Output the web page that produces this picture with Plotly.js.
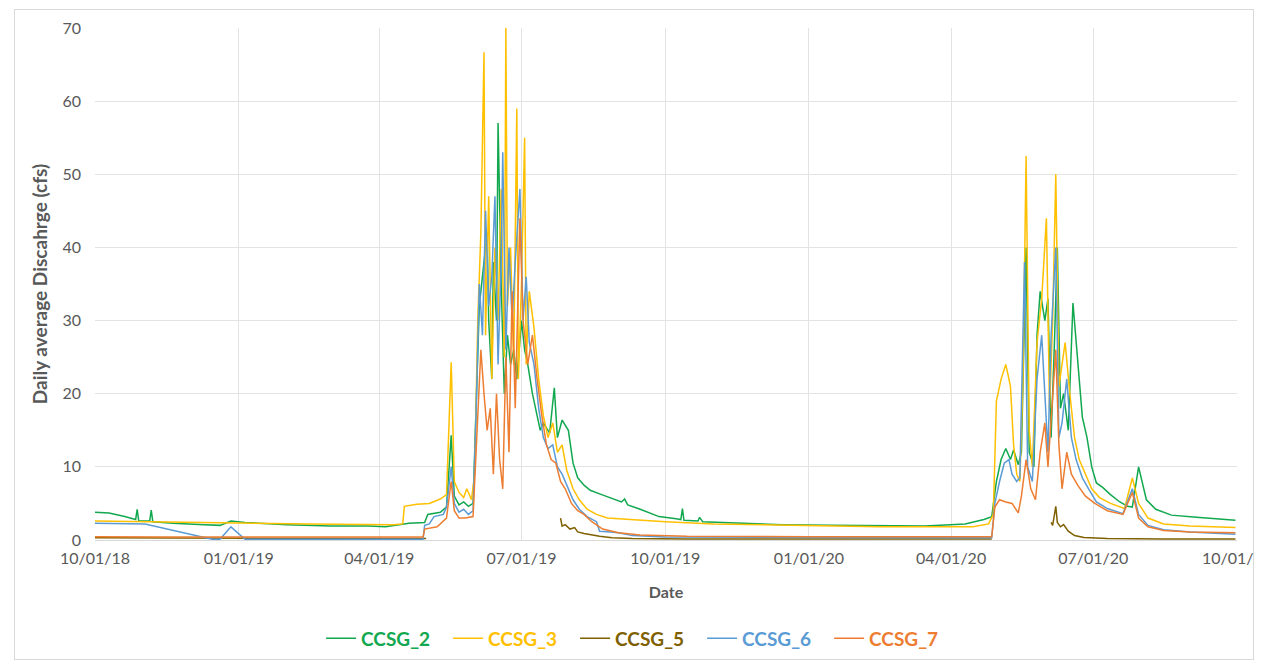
<!DOCTYPE html>
<html>
<head>
<meta charset="utf-8">
<script src="https://cdn.plot.ly/plotly-3.0.1.min.js"></script>
<style>
  html, body { margin: 0; padding: 0; background: #ffffff; width: 1261px; height: 664px; overflow: hidden; }
  #frame { position: absolute; left: 14px; top: 9px; width: 1240px; height: 651px; border: 1px solid #d9d9d9; box-sizing: border-box; }
  #clip { position: absolute; left: 0; top: 0; width: 1254px; height: 664px; overflow: hidden; }
  #chart { position: absolute; left: 0; top: 0; width: 1261px; height: 664px; }
</style>
</head>
<body>
<div id="frame"></div>
<div id="clip"><div id="chart"></div></div>
<script>
// ---------------- data ----------------
const seriesNames = ["CCSG_2", "CCSG_3", "CCSG_5", "CCSG_6", "CCSG_7"];
const seriesColors = ["#12A84F", "#FFC000", "#7F6000", "#5B9BD5", "#ED7D31"];
const xTickLabels = ["10/01/18", "01/01/19", "04/01/19", "07/01/19", "10/01/19", "01/01/20", "04/01/20", "07/01/20", "10/01/20"];
const yTickValues = [0, 10, 20, 30, 40, 50, 60, 70];

const ccsg2Dates = ["2018-10-01","2018-10-10","2018-10-20","2018-10-27","2018-10-28","2018-10-29","2018-11-05","2018-11-06","2018-11-07","2018-11-20","2018-12-10","2018-12-20","2018-12-27","2019-01-05","2019-02-01","2019-03-01","2019-03-25","2019-04-05","2019-04-20","2019-04-30","2019-05-02","2019-05-10","2019-05-14","2019-05-17","2019-05-19","2019-05-22","2019-05-25","2019-05-28","2019-05-31","2019-06-02","2019-06-04","2019-06-06","2019-06-09","2019-06-10","2019-06-12","2019-06-13","2019-06-15","2019-06-16","2019-06-18","2019-06-20","2019-06-22","2019-06-24","2019-06-26","2019-06-28","2019-07-01","2019-07-03","2019-07-05","2019-07-08","2019-07-11","2019-07-13","2019-07-15","2019-07-19","2019-07-22","2019-07-24","2019-07-27","2019-07-31","2019-08-03","2019-08-06","2019-08-10","2019-08-14","2019-08-20","2019-08-27","2019-09-03","2019-09-05","2019-09-07","2019-09-15","2019-09-27","2019-10-08","2019-10-11","2019-10-12","2019-10-13","2019-10-22","2019-10-23","2019-10-25","2019-11-15","2019-12-15","2020-01-15","2020-02-15","2020-03-15","2020-04-10","2020-04-22","2020-04-27","2020-04-30","2020-05-03","2020-05-06","2020-05-09","2020-05-11","2020-05-14","2020-05-16","2020-05-19","2020-05-21","2020-05-24","2020-05-26","2020-05-28","2020-05-31","2020-06-02","2020-06-04","2020-06-06","2020-06-08","2020-06-10","2020-06-12","2020-06-15","2020-06-18","2020-06-22","2020-06-24","2020-06-27","2020-06-30","2020-07-03","2020-07-07","2020-07-12","2020-07-18","2020-07-23","2020-07-26","2020-07-30","2020-08-04","2020-08-10","2020-08-20","2020-09-05","2020-09-20","2020-09-30"];
const ccsg2Values = [3.8,3.7,3.2,2.8,4.2,2.6,2.6,4.1,2.5,2.3,2.1,2.0,2.6,2.4,2.1,1.9,1.9,1.8,2.3,2.4,3.5,3.8,4.5,14.3,6,4.8,5.2,4.6,5,20,32,36,42,30,22,38,30,57,35,20,28,24,26,22,30,26,24,20,17,15,16,14.6,20.8,14,16.4,15,10.5,8.5,7.5,6.8,6.3,5.8,5.2,5.6,4.8,4.2,3.2,2.9,2.8,4.3,2.7,2.6,3.1,2.5,2.3,2.1,2.0,1.9,1.9,2.2,2.8,3.2,8,11,12.5,11,12.3,10.3,12,40,12,10,28,34,30,33,14,26,40,18,20,15,32.4,22,16.8,14,10,7.8,7.2,6.2,5.2,4.6,4.5,10,5.5,4.2,3.4,3.1,2.9,2.7,2.5];

const ccsg3Dates = ["2018-10-01","2018-11-01","2018-12-01","2019-01-01","2019-02-15","2019-04-10","2019-04-16","2019-04-17","2019-04-25","2019-05-03","2019-05-10","2019-05-14","2019-05-17","2019-05-19","2019-05-22","2019-05-25","2019-05-27","2019-05-30","2019-06-01","2019-06-03","2019-06-05","2019-06-07","2019-06-08","2019-06-10","2019-06-12","2019-06-14","2019-06-16","2019-06-18","2019-06-20","2019-06-21","2019-06-22","2019-06-24","2019-06-26","2019-06-28","2019-06-29","2019-07-01","2019-07-03","2019-07-04","2019-07-06","2019-07-09","2019-07-12","2019-07-15","2019-07-18","2019-07-21","2019-07-24","2019-07-27","2019-07-30","2019-08-03","2019-08-07","2019-08-12","2019-08-18","2019-08-25","2019-09-01","2019-09-15","2019-10-01","2019-11-01","2019-12-15","2020-02-15","2020-04-15","2020-04-25","2020-04-28","2020-04-30","2020-05-03","2020-05-06","2020-05-09","2020-05-11","2020-05-13","2020-05-15","2020-05-17","2020-05-19","2020-05-21","2020-05-23","2020-05-26","2020-05-29","2020-06-01","2020-06-03","2020-06-05","2020-06-07","2020-06-09","2020-06-11","2020-06-13","2020-06-16","2020-06-19","2020-06-22","2020-06-26","2020-06-30","2020-07-05","2020-07-12","2020-07-21","2020-07-26","2020-07-30","2020-08-05","2020-08-15","2020-09-01","2020-09-30"];
const ccsg3Values = [2.6,2.5,2.4,2.3,2.2,2.1,2.2,4.6,4.9,5.0,5.6,6.2,24.3,8,6.5,5.8,7,5.5,9,30,42,66.7,28,47,22,40,30,48,25,70,32,40,24,59,22,35,55,24,34,29,22,17,14,16,12,13,9.5,7,5.5,4.2,3.5,3.0,2.9,2.7,2.5,2.2,2.0,1.8,1.8,2.2,3.5,19,22,24,21,13,9,8,22,52.5,15,10,27,33,44,18,30,50,21,24,27,20,14,11,9,7,5.8,5,4.3,8.5,5,3,2.2,1.9,1.7];

const ccsg5Dates = ["2018-10-01","2019-01-01","2019-05-01","2019-05-02","2019-07-26","2019-07-27","2019-07-29","2019-08-01","2019-08-04","2019-08-06","2019-08-10","2019-08-14","2019-08-20","2019-08-28","2019-09-10","2019-10-15","2020-01-01","2020-04-27","2020-04-28","2020-06-04","2020-06-05","2020-06-07","2020-06-08","2020-06-10","2020-06-12","2020-06-15","2020-06-19","2020-06-25","2020-07-10","2020-08-15","2020-09-30"];
const ccsg5Values = [0.3,0.25,0.2,null,3.0,1.9,2.1,1.5,1.7,1.1,0.9,0.7,0.5,0.3,0.2,0.15,0.15,0.15,null,2.4,2.0,4.6,2.4,1.8,2.1,1.2,0.6,0.35,0.2,0.15,0.15];

const ccsg6Dates = ["2018-10-01","2018-10-20","2018-11-02","2018-12-15","2018-12-20","2018-12-27","2019-01-05","2019-04-29","2019-04-30","2019-05-03","2019-05-06","2019-05-12","2019-05-14","2019-05-17","2019-05-19","2019-05-22","2019-05-25","2019-05-28","2019-05-31","2019-06-02","2019-06-04","2019-06-06","2019-06-08","2019-06-10","2019-06-12","2019-06-14","2019-06-16","2019-06-18","2019-06-19","2019-06-21","2019-06-23","2019-06-25","2019-06-27","2019-06-30","2019-07-02","2019-07-04","2019-07-06","2019-07-09","2019-07-12","2019-07-15","2019-07-18","2019-07-21","2019-07-24","2019-07-27","2019-07-30","2019-08-03","2019-08-07","2019-08-12","2019-08-18","2019-08-20","2019-08-27","2019-09-01","2019-09-10","2019-10-01","2020-01-01","2020-04-27","2020-04-29","2020-05-02","2020-05-05","2020-05-08","2020-05-10","2020-05-13","2020-05-15","2020-05-18","2020-05-20","2020-05-23","2020-05-26","2020-05-29","2020-05-31","2020-06-02","2020-06-04","2020-06-07","2020-06-09","2020-06-11","2020-06-14","2020-06-17","2020-06-20","2020-06-24","2020-06-28","2020-07-03","2020-07-10","2020-07-20","2020-07-26","2020-07-30","2020-08-05","2020-08-15","2020-09-01","2020-09-30"];
const ccsg6Values = [2.3,2.3,2.2,0.1,0.1,1.8,0.1,0.1,2.0,2.2,3.2,3.5,4.5,10,5,3.8,4.2,3.5,4,18,35,28,45,32,36,47,24,38,53,26,40,30,38,48,30,36,27,24,18,14,12.5,13,10,9,7.5,5.5,4.2,3.2,2.5,1.2,1.1,1.0,0.6,0.4,0.35,0.3,5,8,10.5,11,9,8,8.5,38,10,8,22,28,20,12,28,40,14,16,22,14,11,8.5,7,5.2,4.3,3.6,7,3.5,2,1.4,1.1,0.8];

const ccsg7Dates = ["2018-10-01","2018-11-15","2019-04-29","2019-04-30","2019-05-08","2019-05-14","2019-05-17","2019-05-19","2019-05-22","2019-05-26","2019-05-31","2019-06-02","2019-06-05","2019-06-07","2019-06-09","2019-06-11","2019-06-13","2019-06-15","2019-06-17","2019-06-19","2019-06-21","2019-06-23","2019-06-25","2019-06-27","2019-06-30","2019-07-02","2019-07-05","2019-07-08","2019-07-11","2019-07-14","2019-07-17","2019-07-20","2019-07-23","2019-07-26","2019-07-29","2019-08-02","2019-08-06","2019-08-10","2019-08-15","2019-08-22","2019-09-01","2019-09-15","2019-10-15","2020-01-01","2020-04-27","2020-04-29","2020-05-02","2020-05-06","2020-05-10","2020-05-14","2020-05-16","2020-05-19","2020-05-22","2020-05-25","2020-05-28","2020-05-31","2020-06-02","2020-06-05","2020-06-07","2020-06-09","2020-06-11","2020-06-14","2020-06-17","2020-06-21","2020-06-26","2020-07-02","2020-07-10","2020-07-20","2020-07-26","2020-07-30","2020-08-05","2020-08-15","2020-09-01","2020-09-30"];
const ccsg7Values = [0.45,0.4,0.4,1.5,1.8,3,8,4,3,3,3.2,12,26,20,15,18,9,20,11,7,25,12,34,18,44,30,24,28,22,17,13,11,10.5,8,7,5,4,3.5,2.5,1.5,1.0,0.7,0.5,0.45,0.45,4.5,5.5,5.2,5,3.7,6,11,7,5.5,12,16,10,19.6,26,13,7,12,9,7.5,6,5,4,3.5,6.5,3,1.8,1.3,1.1,1.0];

const allDates = [ccsg2Dates, ccsg3Dates, ccsg5Dates, ccsg6Dates, ccsg7Dates];
const allValues = [ccsg2Values, ccsg3Values, ccsg5Values, ccsg6Values, ccsg7Values];

// ---------------- chart ----------------
const traces = seriesNames.map((name, i) => ({
  type: "scatter",
  mode: "lines",
  x: allDates[i],
  y: allValues[i],
  connectgaps: false,
  name: '<span style="color:' + seriesColors[i] + '"><b>' + name + '</b></span>',
  line: { color: seriesColors[i], width: 1.5 },
  hoverinfo: "x+y+name"
}));

const tickDates = ["2018-10-01","2019-01-01","2019-04-01","2019-07-01","2019-10-01","2020-01-01","2020-04-01","2020-07-01","2020-10-01"];

const layout = {
  width: 1261,
  height: 664,
  margin: { l: 95, r: 24, t: 28, b: 124, autoexpand: false },
  paper_bgcolor: "rgba(0,0,0,0)",
  plot_bgcolor: "rgba(0,0,0,0)",
  font: { family: "Lato, 'Open Sans', sans-serif", color: "#595959", size: 16 },
  showlegend: true,
  xaxis: {
    type: "date",
    range: ["2018-10-01", "2020-10-01"],
    tickvals: tickDates,
    ticktext: xTickLabels,
    ticklabeloverflow: "allow",
    automargin: false,
    showgrid: true,
    gridcolor: "#e3e3e3",
    gridwidth: 1,
    zeroline: false,
    showline: true,
    linecolor: "#d9d9d9",
    ticks: "",
    ticklabelstandoff: 4,
    tickfont: { size: 16, color: "#595959" },
    title: { text: "<b>Date</b>", font: { size: 16, color: "#595959" }, standoff: 20 }
  },
  yaxis: {
    range: [0, 70],
    tickvals: yTickValues,
    automargin: false,
    showgrid: true,
    gridcolor: "#e3e3e3",
    gridwidth: 1,
    zeroline: false,
    showline: false,
    ticks: "",
    ticklabelstandoff: 13,
    tickfont: { size: 16, color: "#595959" },
    title: { text: "<b>Daily average Discahrge (cfs)</b>", font: { size: 19, color: "#595959" }, standoff: 9 }
  },
  legend: {
    orientation: "h",
    x: 0.476,
    xanchor: "center",
    y: -0.155,
    yanchor: "top",
    font: { size: 19 },
    itemwidth: 30,
    entrywidth: 82,
    entrywidthmode: "pixels",
    traceorder: "normal"
  }
};

Plotly.newPlot("chart", traces, layout, { displayModeBar: false, staticPlot: true });
</script>
</body>
</html>
